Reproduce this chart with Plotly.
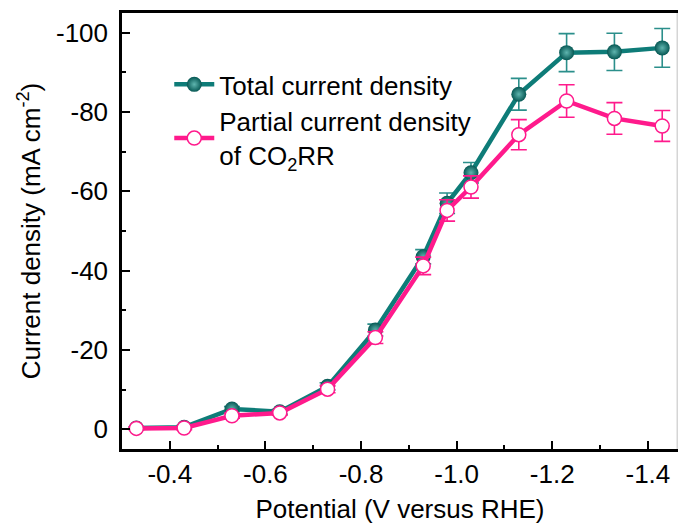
import plotly.graph_objects as go

# ---- data ----
potential = [-0.33, -0.43, -0.53, -0.63, -0.73, -0.83, -0.93, -0.98, -1.03, -1.13, -1.23, -1.33, -1.43]
total_j = [-0.3, -0.5, -5.1, -4.4, -10.8, -25.0, -43.5, -57.0, -64.7, -84.5, -95.0, -95.2, -96.2]
total_err = [0.3, 0.4, 0.6, 0.6, 0.9, 1.5, 1.8, 2.6, 2.6, 4.0, 4.8, 4.7, 4.9]
partial_j = [-0.2, -0.3, -3.4, -4.1, -10.1, -23.1, -41.2, -55.2, -61.1, -74.3, -82.8, -78.4, -76.5]
partial_err = [0.3, 0.4, 0.6, 0.6, 0.9, 1.5, 2.2, 2.7, 2.8, 3.8, 4.1, 4.0, 3.9]

x_ticks = [-0.4, -0.6, -0.8, -1.0, -1.2, -1.4]
y_ticks = [-100, -80, -60, -40, -20, 0]

teal = "#0E7C78"
teal_err = "#2B8F8B"
pink = "#FF1A8C"
font_family = "Arial, Liberation Sans, sans-serif"
FS = 26

fig = go.Figure()

fig.add_trace(go.Scatter(
    x=potential, y=total_j, mode="lines+markers",
    name="Total current density",
    line=dict(color=teal, width=4.5),
    marker=dict(size=15, color="#065854",
                gradient=dict(type="radial", color="#5FB5AF"),
                line=dict(width=0)),
    error_y=dict(type="data", array=total_err, visible=True,
                 color=teal_err, thickness=1.6, width=8),
))

fig.add_trace(go.Scatter(
    x=potential, y=partial_j, mode="lines+markers",
    name="Partial current density<br>of CO<sub>2</sub>RR",
    line=dict(color=pink, width=4.5),
    marker=dict(size=14, color="white", symbol="circle",
                line=dict(color=pink, width=1.5)),
    error_y=dict(type="data", array=partial_err, visible=True,
                 color=pink, thickness=1.6, width=8),
))

fig.update_layout(
    width=678, height=529,
    margin=dict(l=122, r=0, t=13, b=80),
    paper_bgcolor="white", plot_bgcolor="white",
    font=dict(family=font_family, size=FS, color="black"),
    showlegend=True,
    legend=dict(x=0.085, y=0.89, xanchor="left", yanchor="top",
                bgcolor="rgba(0,0,0,0)", font=dict(size=FS),
                tracegroupgap=0, itemwidth=40),
    shapes=[dict(type="line", xref="paper", yref="paper",
                 x0=0.9985, x1=0.9985, y0=1.0, y1=0.0,
                 line=dict(color="#C0C0C0", width=1))],
)

fig.update_xaxes(
    range=[-0.3, -1.463],
    tickvals=x_ticks, ticktext=[f"{v:.1f}" for v in x_ticks],
    ticks="inside", ticklen=8, tickwidth=2, tickcolor="black",
    minor=dict(dtick=0.1, tick0=-0.3, ticks="inside", ticklen=4,
               tickwidth=2, tickcolor="black", showgrid=False),
    showline=True, linewidth=2.5, linecolor="black", mirror=True,
    showgrid=False, zeroline=False,
    title=dict(text="Potential (V versus RHE)", font=dict(size=FS), standoff=12),
    tickfont=dict(size=FS),
)

fig.update_yaxes(
    range=[5, -105],
    tickvals=y_ticks, ticktext=[str(v) for v in y_ticks],
    ticks="inside", ticklen=8, tickwidth=2, tickcolor="black",
    minor=dict(dtick=10, tick0=0, ticks="inside", ticklen=4,
               tickwidth=2, tickcolor="black", showgrid=False),
    showline=True, linewidth=2.5, linecolor="black", mirror=False,
    showgrid=False, zeroline=False,
    ticklabelstandoff=6,
    title=dict(text="Current density (mA cm<sup>-2</sup>)", font=dict(size=FS), standoff=8),
    tickfont=dict(size=FS),
)

fig.write_html("out.html")
